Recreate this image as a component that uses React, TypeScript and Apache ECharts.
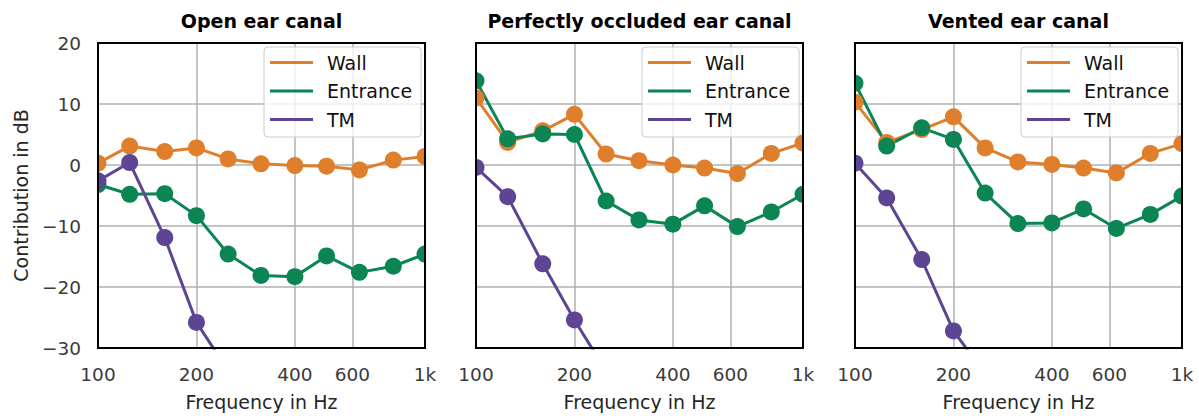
import React, { useEffect, useRef } from 'react';
import * as echarts from 'echarts';

const FREQS = [100, 125, 160, 200, 250, 315, 400, 500, 630, 800, 1000];
const X_LABEL_VALUES = [100, 200, 400, 600, 1000];
const X_GRID_VALUES = [200, 400, 600];
const PANEL_TITLES = ['Open ear canal', 'Perfectly occluded ear canal', 'Vented ear canal'];
const SERIES_NAMES = ['Wall', 'Entrance', 'TM'];
const SERIES_COLORS = ['#E07F2B', '#0B8553', '#5E4594'];

const OPEN_WALL = [0.3, 3.1, 2.2, 2.8, 1.0, 0.2, -0.1, -0.2, -0.8, 0.8, 1.4];
const OPEN_ENTRANCE = [-3.2, -4.8, -4.7, -8.3, -14.6, -18.1, -18.3, -14.9, -17.6, -16.6, -14.6];
const OPEN_TM = [-2.6, 0.4, -11.9, -25.8, -33.7, null, null, null, null, null, null];

const OCCLUDED_WALL = [11.0, 3.7, 5.6, 8.3, 1.8, 0.7, 0.0, -0.5, -1.4, 1.9, 3.6];
const OCCLUDED_ENTRANCE = [13.8, 4.3, 5.1, 5.0, -5.9, -9.0, -9.7, -6.7, -10.1, -7.7, -4.8];
const OCCLUDED_TM = [-0.4, -5.2, -16.2, -25.4, -33.8, null, null, null, null, null, null];

const VENTED_WALL = [10.3, 3.7, 5.8, 7.9, 2.8, 0.5, 0.1, -0.5, -1.3, 1.9, 3.5];
const VENTED_ENTRANCE = [13.4, 3.1, 6.1, 4.2, -4.6, -9.6, -9.5, -7.2, -10.4, -8.1, -5.1];
const VENTED_TM = [0.3, -5.4, -15.5, -27.2, -34.2, null, null, null, null, null, null];

const PANELS = [
  [OPEN_WALL, OPEN_ENTRANCE, OPEN_TM],
  [OCCLUDED_WALL, OCCLUDED_ENTRANCE, OCCLUDED_TM],
  [VENTED_WALL, VENTED_ENTRANCE, VENTED_TM],
];

const GRID_LEFTS = [98, 476, 855];
const GRID_TOP = 43;
const GRID_W = 327;
const GRID_H = 308;
const FONT = 'DejaVu Sans';

export default function App() {
  const ref = useRef<HTMLDivElement>(null);
  useEffect(() => {
    if (!ref.current) return;
    const chart = echarts.init(ref.current, undefined, { renderer: 'svg' });

    const grid = GRID_LEFTS.map((left) => ({
      left,
      top: GRID_TOP,
      width: GRID_W,
      height: GRID_H,
      show: true,
      backgroundColor: 'transparent',
      borderColor: '#000',
      borderWidth: 2,
      z: 10,
    }));

    const xAxis = GRID_LEFTS.map((_, i) => ({
      type: 'log',
      logBase: 10,
      gridIndex: i,
      min: 100,
      max: 1000,
      name: 'Frequency in Hz',
      nameLocation: 'middle',
      nameGap: 44,
      nameTextStyle: { fontFamily: FONT, fontSize: 19, color: '#262626' },
      axisLine: { show: false },
      axisTick: { show: false, customValues: X_GRID_VALUES },
      axisLabel: {
        customValues: X_LABEL_VALUES,
        fontFamily: FONT,
        fontSize: 18.5,
        color: '#3a3a3a',
        margin: 17,
        formatter: (v: number) => (v >= 1000 ? '1k' : String(Math.round(v))),
      },
      splitLine: { show: true, lineStyle: { color: '#b0b0b0', width: 1.5 } },
      minorTick: { show: false },
      minorSplitLine: { show: false },
    }));

    const yAxis = GRID_LEFTS.map((_, i) => ({
      type: 'value',
      gridIndex: i,
      min: -30,
      max: 20,
      interval: 10,
      name: i === 0 ? 'Contribution in dB' : '',
      nameLocation: 'middle',
      nameGap: 68,
      nameTextStyle: { fontFamily: FONT, fontSize: 19, color: '#262626' },
      axisLine: { show: false },
      axisTick: { show: false },
      axisLabel: {
        show: i === 0,
        fontFamily: FONT,
        fontSize: 18.5,
        color: '#3a3a3a',
        margin: 17,
        formatter: (v: number) => (v < 0 ? '\u2212' + Math.abs(v) : String(v)),
      },
      splitLine: { show: true, lineStyle: { color: '#b0b0b0', width: 1.5 } },
    }));

    const series: any[] = [];
    PANELS.forEach((panel, p) => {
      panel.forEach((vals, s) => {
        series.push({
          type: 'line',
          name: SERIES_NAMES[s],
          xAxisIndex: p,
          yAxisIndex: p,
          data: FREQS.map((f, k) => [f, vals[k]]).filter((d) => d[1] !== null),
          symbol: 'circle',
          symbolSize: 17,
          color: SERIES_COLORS[s],
          lineStyle: { width: 3, color: SERIES_COLORS[s] },
          itemStyle: { color: SERIES_COLORS[s] },
          clip: true,
          z: 2,
        });
      });
    });

    const legend = GRID_LEFTS.map((left) => ({
      data: SERIES_NAMES,
      orient: 'vertical',
      left: left + 166,
      top: 47,
      icon: 'rect',
      itemWidth: 43,
      itemHeight: 3,
      itemGap: 9.5,
      padding: [6, 9, 8, 6],
      backgroundColor: 'rgba(255,255,255,0.8)',
      borderColor: '#cccccc',
      borderWidth: 1,
      borderRadius: 4,
      selectedMode: false,
      textStyle: {
        fontFamily: FONT,
        fontSize: 19,
        lineHeight: 19,
        color: '#111',
        padding: [0, 0, 0, 9],
      },
    }));

    const graphic: any[] = [];
    GRID_LEFTS.forEach((left, i) => {
      graphic.push({
        type: 'text',
        x: left + GRID_W / 2,
        y: 21,
        style: {
          text: PANEL_TITLES[i],
          fontFamily: FONT,
          fontWeight: 'bold',
          fontSize: 19,
          fill: '#000',
          textAlign: 'center',
          textVerticalAlign: 'middle',
        },
        z: 20,
      });
      graphic.push({
        type: 'rect',
        shape: { x: left - 12, y: GRID_TOP - 2, width: 11, height: GRID_H + 4 },
        style: { fill: '#fff' },
        z: 5,
        silent: true,
      });
      graphic.push({
        type: 'rect',
        shape: { x: left + GRID_W + 1, y: GRID_TOP - 2, width: 11, height: GRID_H + 4 },
        style: { fill: '#fff' },
        z: 5,
        silent: true,
      });
    });

    chart.setOption({
      animation: false,
      backgroundColor: '#fff',
      grid,
      xAxis,
      yAxis,
      legend,
      series,
      graphic,
    });
    return () => chart.dispose();
  }, []);

  return (
    <div
      ref={ref}
      style={{ position: 'absolute', left: 0, top: 0, width: 1199, height: 416 }}
    />
  );
}
